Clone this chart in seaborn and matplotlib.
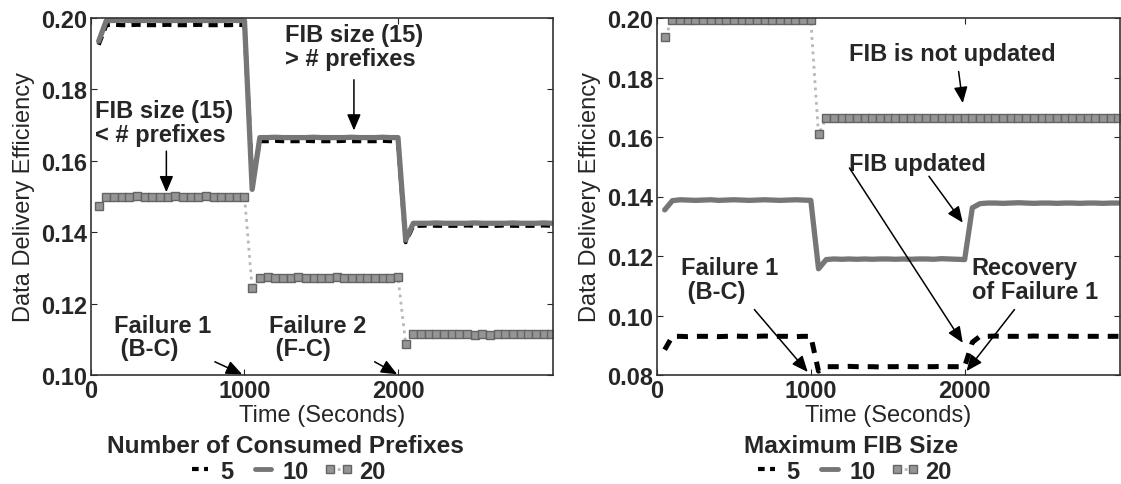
import matplotlib
matplotlib.use('Agg')
import matplotlib.pyplot as plt
import seaborn as sns

# time axis (seconds), one sample every 50 s
times = list(range(50, 3001, 50))

# Left panel: Number of Consumed Prefixes
left_5 = [0.1925,
          0.1980, 0.1981, 0.1980, 0.1980, 0.1981, 0.1980, 0.1980, 0.1980, 0.1981, 0.1980,
          0.1980, 0.1980, 0.1981, 0.1980, 0.1980, 0.1980, 0.1980, 0.1981, 0.1980,
          0.1545,
          0.1655, 0.1655, 0.1656, 0.1655, 0.1655, 0.1655, 0.1656, 0.1655, 0.1655, 0.1655,
          0.1655, 0.1656, 0.1655, 0.1655, 0.1655, 0.1655, 0.1656, 0.1655, 0.1655,
          0.1372,
          0.1418, 0.1418, 0.1419, 0.1418, 0.1418, 0.1418, 0.1418, 0.1419, 0.1418, 0.1418,
          0.1418, 0.1418, 0.1419, 0.1418, 0.1418, 0.1418, 0.1418, 0.1419, 0.1418]
left_10 = [0.1935,
           0.1993, 0.1993, 0.1994, 0.1993, 0.1993, 0.1993, 0.1994, 0.1993, 0.1993, 0.1993,
           0.1993, 0.1994, 0.1993, 0.1993, 0.1993, 0.1993, 0.1994, 0.1993, 0.1993,
           0.1520,
           0.1665, 0.1665, 0.1666, 0.1665, 0.1665, 0.1665, 0.1665, 0.1666, 0.1665, 0.1665,
           0.1665, 0.1665, 0.1666, 0.1665, 0.1665, 0.1665, 0.1666, 0.1665, 0.1665,
           0.1378,
           0.1425, 0.1425, 0.1425, 0.1426, 0.1425, 0.1425, 0.1425, 0.1425, 0.1426, 0.1425,
           0.1425, 0.1425, 0.1425, 0.1426, 0.1425, 0.1425, 0.1425, 0.1426, 0.1425]
left_20 = [0.1472,
           0.1499, 0.1500, 0.1499, 0.1499, 0.1501, 0.1499, 0.1500, 0.1499, 0.1500, 0.1501,
           0.1499, 0.1500, 0.1500, 0.1501, 0.1499, 0.1500, 0.1499, 0.1500, 0.1500,
           0.1243,
           0.1272, 0.1274, 0.1272, 0.1273, 0.1272, 0.1274, 0.1273, 0.1273, 0.1271, 0.1273,
           0.1274, 0.1272, 0.1273, 0.1271, 0.1273, 0.1272, 0.1272, 0.1272, 0.1274,
           0.1088,
           0.1114, 0.1115, 0.1115, 0.1115, 0.1115, 0.1115, 0.1115, 0.1115, 0.1112, 0.1115,
           0.1113, 0.1115, 0.1115, 0.1115, 0.1115, 0.1115, 0.1115, 0.1115, 0.1115]

# Right panel: Maximum FIB Size
right_5 = [0.0885,
           0.0930, 0.0930, 0.0929, 0.0930, 0.0930, 0.0930, 0.0929, 0.0930, 0.0931, 0.0930,
           0.0930, 0.0930, 0.0931, 0.0930, 0.0930, 0.0930, 0.0929, 0.0930, 0.0930,
           0.0813,
           0.0828, 0.0828, 0.0828, 0.0829, 0.0828, 0.0828, 0.0828, 0.0827, 0.0828, 0.0828,
           0.0829, 0.0828, 0.0828, 0.0828, 0.0828, 0.0829, 0.0828, 0.0828, 0.0828,
           0.0910,
           0.0930, 0.0930, 0.0931, 0.0930, 0.0930, 0.0930, 0.0930, 0.0931, 0.0930, 0.0930,
           0.0930, 0.0931, 0.0930, 0.0930, 0.0930, 0.0930, 0.0930, 0.0930, 0.0930]
right_10 = [0.1355,
            0.1386, 0.1389, 0.1388, 0.1387, 0.1388, 0.1389, 0.1387, 0.1388, 0.1389, 0.1388,
            0.1387, 0.1388, 0.1389, 0.1388, 0.1387, 0.1388, 0.1389, 0.1388, 0.1387,
            0.1157,
            0.1188, 0.1190, 0.1189, 0.1190, 0.1189, 0.1190, 0.1189, 0.1190, 0.1190, 0.1189,
            0.1190, 0.1189, 0.1190, 0.1190, 0.1189, 0.1191, 0.1190, 0.1189, 0.1188,
            0.1362,
            0.1376, 0.1378, 0.1378, 0.1377, 0.1378, 0.1379, 0.1378, 0.1377, 0.1378, 0.1378,
            0.1377, 0.1378, 0.1378, 0.1377, 0.1378, 0.1378, 0.1377, 0.1378, 0.1378]
right_20 = [0.1937,
            0.1992, 0.1992, 0.1993, 0.1992, 0.1992, 0.1992, 0.1992, 0.1993, 0.1992, 0.1992,
            0.1992, 0.1992, 0.1993, 0.1992, 0.1992, 0.1992, 0.1993, 0.1992, 0.1992,
            0.1609,
            0.1664, 0.1664, 0.1664, 0.1664, 0.1664, 0.1664, 0.1664, 0.1664, 0.1664, 0.1664,
            0.1664, 0.1664, 0.1664, 0.1664, 0.1664, 0.1664, 0.1664, 0.1664, 0.1664, 0.1664,
            0.1664, 0.1664, 0.1664, 0.1664, 0.1664, 0.1664, 0.1664, 0.1664, 0.1664, 0.1664,
            0.1664, 0.1664, 0.1664, 0.1664, 0.1664, 0.1664, 0.1664, 0.1664, 0.1664]

series_labels = ['5', '10', '20']
legend_titles = ['Number of Consumed Prefixes', 'Maximum FIB Size']

sns.set_style('ticks')
plt.rcParams['font.family'] = ['Liberation Sans', 'DejaVu Sans']
plt.rcParams['xtick.direction'] = 'in'
plt.rcParams['ytick.direction'] = 'in'

FS = 17

fig = plt.figure(figsize=(11.21, 4.85), dpi=100)
ax1 = fig.add_axes([91 / 1121, 1 - 376 / 485, 462 / 1121, 357 / 485])
ax2 = fig.add_axes([657 / 1121, 1 - 376 / 485, 463 / 1121, 357 / 485])


def draw_panel(ax, s5, s10, s20, ylim, yticks, title, lw5, dash5):
    sns.lineplot(x=times, y=s5, ax=ax, color='black', lw=lw5,
                 linestyle=(0, dash5), label=series_labels[0], errorbar=None)
    sns.lineplot(x=times, y=s10, ax=ax, color='#767676', lw=3.8,
                 linestyle='-', label=series_labels[1], errorbar=None)
    sns.lineplot(x=times, y=s20, ax=ax, color='#b8b8b8', lw=2,
                 linestyle=(0, (1, 1.6)), marker='s', markersize=5.5,
                 markerfacecolor='#959595', markeredgecolor='#646464',
                 markeredgewidth=1, label=series_labels[2], errorbar=None)
    ax.set_xlim(0, 3010)
    ax.set_ylim(*ylim)
    ax.set_xticks([0, 1000, 2000])
    ax.set_yticks(yticks)
    ax.set_yticklabels(['%.2f' % v for v in yticks])
    ax.tick_params(axis='both', which='both', top=True, right=True,
                   length=4, width=0.8, labelsize=FS, pad=3)
    for lab in ax.get_xticklabels() + ax.get_yticklabels():
        lab.set_fontweight('bold')
    for sp in ax.spines.values():
        sp.set_color('#333333')
        sp.set_linewidth(1.2)
    ax.set_xlabel('Time (Seconds)', fontsize=FS, labelpad=1)
    ax.set_ylabel('Data Delivery Efficiency', fontsize=FS, labelpad=4)
    leg = ax.legend(title=title, loc='upper center', bbox_to_anchor=(0.42, -0.165),
                    ncol=3, frameon=False, fontsize=FS, title_fontsize=17.6,
                    handlelength=1.3, handletextpad=0.2, columnspacing=0.6,
                    numpoints=2, borderpad=0, borderaxespad=0, labelspacing=0.1)
    leg.get_title().set_fontweight('bold')
    leg._legend_box.sep = 2
    for t in leg.get_texts():
        t.set_fontweight('bold')
    handles = leg.get_lines()
    handles[0].set_linewidth(3)
    handles[0].set_linestyle((0, (1.6, 1.3)))
    handles[1].set_linewidth(3.5)


def arrow(ax, tail, tip):
    ax.annotate('', xy=tip, xytext=tail,
                arrowprops=dict(arrowstyle='-|>,head_length=0.75,head_width=0.32',
                                color='black', lw=1.1, shrinkA=0, shrinkB=0,
                                mutation_scale=13))


draw_panel(ax1, left_5, left_10, left_20, (0.10, 0.20),
           [0.10, 0.12, 0.14, 0.16, 0.18, 0.20], legend_titles[0], 3, (2.2, 1.5))
draw_panel(ax2, right_5, right_10, right_20, (0.08, 0.20),
           [0.08, 0.10, 0.12, 0.14, 0.16, 0.18, 0.20], legend_titles[1], 3.6, (2.2, 1.8))

bold = dict(fontsize=FS, fontweight='bold', ha='left', va='top', linespacing=1.05)

# left panel notes
ax1.text(1262, 0.1985, 'FIB size (15)\n> # prefixes', **bold)
arrow(ax1, (1713, 0.1827), (1713, 0.1685))
ax1.text(25, 0.1772, 'FIB size (15)\n< # prefixes', **bold)
arrow(ax1, (491, 0.1627), (491, 0.1512))
ax1.text(152, 0.1172, 'Failure 1\n (B-C)', **bold)
arrow(ax1, (807, 0.1037), (985, 0.1002))
ax1.text(1158, 0.1172, 'Failure 2\n (F-C)', **bold)
arrow(ax1, (1848, 0.1037), (1995, 0.1002))

# right panel notes
ax2.text(1247, 0.1920, 'FIB is not updated', **bold)
arrow(ax2, (1961, 0.1820), (1988, 0.1714))
ax2.text(1247, 0.1550, 'FIB updated', **bold)
arrow(ax2, (1768, 0.1468), (1988, 0.1312))
arrow(ax2, (1251, 0.1496), (1988, 0.0908))
ax2.text(158, 0.1200, 'Failure 1\n (B-C)', **bold)
arrow(ax2, (633, 0.1020), (980, 0.0810))
ax2.text(2046, 0.1200, 'Recovery\nof Failure 1', **bold)
arrow(ax2, (2324, 0.1020), (2012, 0.0813))

fig.savefig('out.png', dpi=100)
